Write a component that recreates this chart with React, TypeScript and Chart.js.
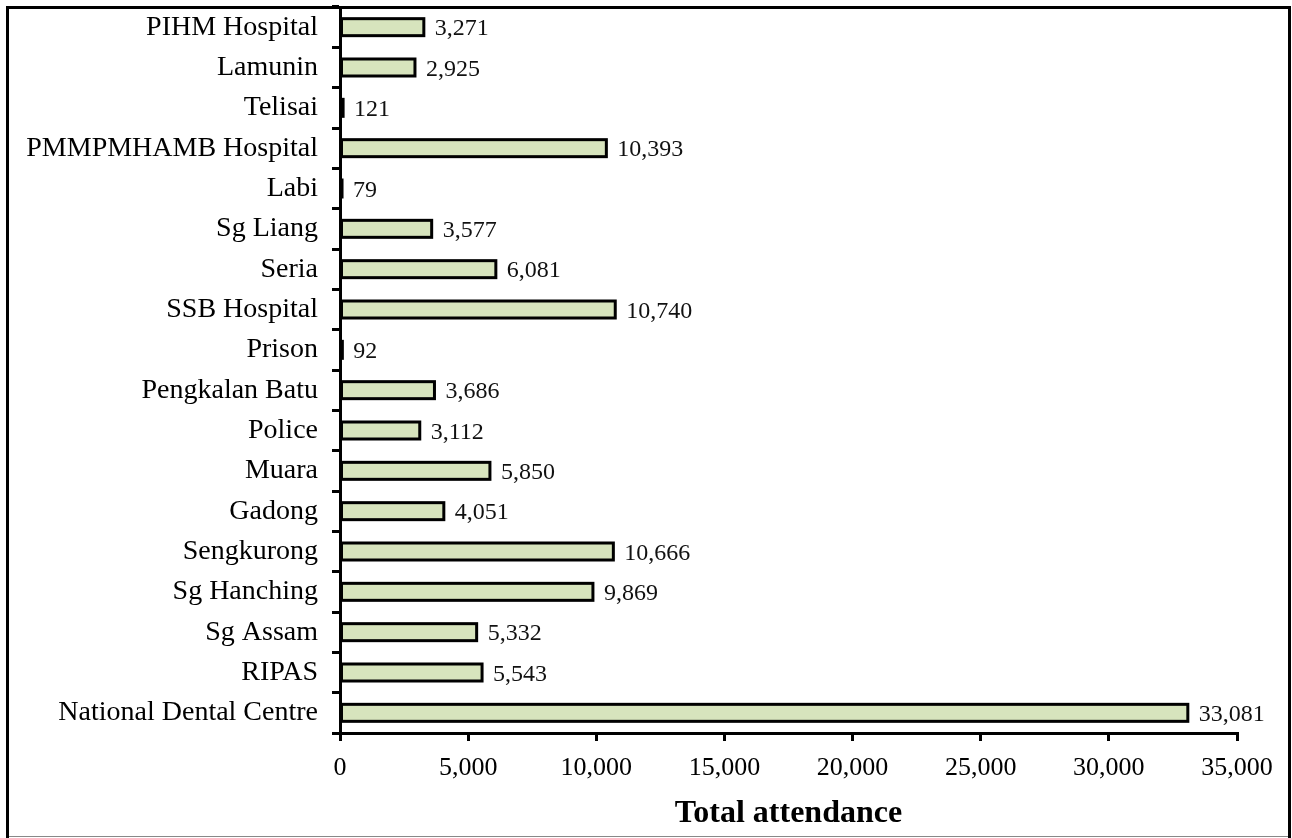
import React, { useEffect, useRef } from "react";
import { Chart, registerables } from "chart.js";

Chart.register(...registerables);

const categories: string[] = [
  "PIHM Hospital",
  "Lamunin",
  "Telisai",
  "PMMPMHAMB Hospital",
  "Labi",
  "Sg Liang",
  "Seria",
  "SSB Hospital",
  "Prison",
  "Pengkalan Batu",
  "Police",
  "Muara",
  "Gadong",
  "Sengkurong",
  "Sg Hanching",
  "Sg Assam",
  "RIPAS",
  "National Dental Centre",
];

const attendance: number[] = [
  3271, 2925, 121, 10393, 79, 3577, 6081, 10740, 92, 3686, 3112, 5850, 4051,
  10666, 9869, 5332, 5543, 33081,
];

const xAxisMin = 0;
const xAxisMax = 35000;
const xAxisStep = 5000;
const xAxisTitle = "Total attendance";

const SERIF = '"Liberation Serif", "Times New Roman", Times, serif';

// Draws a border centred on each bar's edge (like the spreadsheet original),
// using the geometry of the library's own bar elements, then the value labels.
const barOutlineAndLabels = {
  id: "barOutlineAndLabels",
  afterDatasetsDraw(chart: any) {
    const ctx = chart.ctx;
    const meta = chart.getDatasetMeta(0);
    ctx.save();
    ctx.strokeStyle = "#000";
    ctx.lineWidth = 3;
    ctx.lineJoin = "miter";
    meta.data.forEach((el: any) => {
      const p = el.getProps(["x", "y", "base", "height"], true);
      ctx.strokeRect(p.base, p.y - p.height / 2, p.x - p.base, p.height);
    });
    ctx.font = `24px ${SERIF}`;
    ctx.fillStyle = "#111";
    ctx.textAlign = "left";
    ctx.textBaseline = "middle";
    meta.data.forEach((el: any, i: number) => {
      const v = attendance[i];
      ctx.fillText(v.toLocaleString("en-US"), el.x + 11, el.y + 2);
    });
    ctx.restore();
  },
};

export default function App() {
  const canvasRef = useRef<HTMLCanvasElement | null>(null);

  useEffect(() => {
    if (!canvasRef.current) return;
    Chart.defaults.font.family = SERIF;
    Chart.defaults.color = "#000";
    const chart = new Chart(canvasRef.current, {
      type: "bar",
      data: {
        labels: categories,
        datasets: [
          {
            data: attendance,
            backgroundColor: "#D7E4BD",
            borderWidth: 0,
            barThickness: 17,
          },
        ],
      },
      plugins: [barOutlineAndLabels],
      options: {
        indexAxis: "y",
        animation: false,
        responsive: false,
        maintainAspectRatio: false,
        layout: { padding: { left: 0, right: 55, top: 7, bottom: 0 } },
        plugins: {
          legend: { display: false },
          tooltip: { enabled: false },
        },
        scales: {
          y: {
            type: "category",
            offset: true,
            grid: {
              offset: true,
              drawOnChartArea: false,
              drawTicks: true,
              tickLength: 8,
              lineWidth: 3,
              color: "#000",
            },
            border: { display: true, color: "#000", width: 3, z: 1 },
            ticks: {
              font: { size: 28, family: SERIF },
              color: "#000",
              padding: 14,
              autoSkip: false,
            },
            afterFit(scale: any) {
              scale.width = 340;
              scale.paddingTop = 0;
              scale.paddingBottom = 0;
            },
          },
          x: {
            type: "linear",
            min: xAxisMin,
            max: xAxisMax,
            grid: {
              drawOnChartArea: false,
              drawTicks: true,
              tickLength: 8,
              lineWidth: 3,
              color: "#000",
            },
            border: { display: true, color: "#000", width: 3 },
            ticks: {
              stepSize: xAxisStep,
              font: { size: 26, family: SERIF },
              color: "#000",
              padding: 12,
              maxRotation: 0,
              callback: (v: any) => Number(v).toLocaleString("en-US"),
            },
            title: {
              display: true,
              text: xAxisTitle,
              font: { size: 32, weight: "bold", family: SERIF },
              color: "#000",
              padding: { top: 0, bottom: 5 },
            },
            afterFit(scale: any) {
              scale.height = 105;
            },
          },
        },
      },
    });
    return () => chart.destroy();
  }, []);

  return (
    <div
      style={{
        position: "fixed",
        left: 0,
        top: 0,
        width: 1292,
        height: 838,
        background: "#fff",
        overflow: "hidden",
      }}
    >
      <canvas
        ref={canvasRef}
        width={1292}
        height={838}
        style={{ position: "absolute", left: 0, top: 0, width: 1292, height: 838 }}
      />
      <div
        style={{
          position: "absolute",
          left: 6,
          top: 6,
          width: 1279,
          height: 840,
          borderLeft: "3px solid #000",
          borderTop: "3px solid #000",
          borderRight: "3px solid #000",
          pointerEvents: "none",
        }}
      />
      <div
        style={{
          position: "absolute",
          left: 9,
          top: 836,
          width: 1279,
          height: 1,
          background: "#888",
          pointerEvents: "none",
        }}
      />
    </div>
  );
}
